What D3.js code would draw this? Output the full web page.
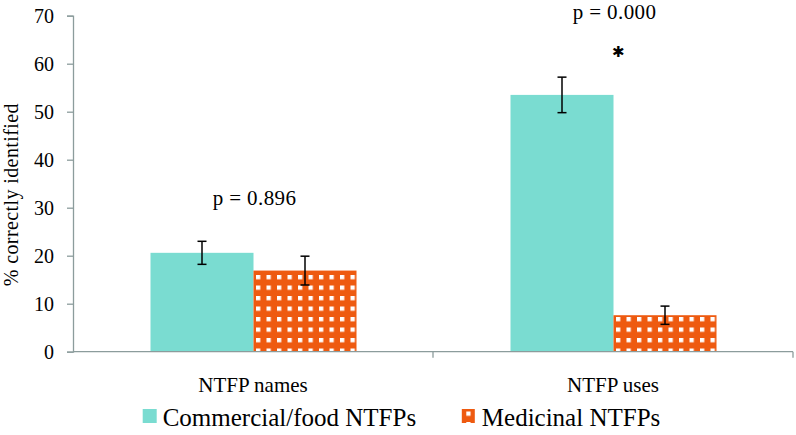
<!DOCTYPE html>
<html>
<head>
<meta charset="utf-8">
<script src="https://cdn.jsdelivr.net/npm/d3@7"></script>
<style>
  html, body { margin: 0; padding: 0; background: #fff; }
  svg { display: block; }
  text { font-family: "Liberation Serif", "Times New Roman", serif; fill: #000; }
</style>
</head>
<body>
<svg id="chart" width="796" height="435"></svg>
<script>
const categories = ["NTFP names", "NTFP uses"];
const seriesNames = ["Commercial/food NTFPs", "Medicinal NTFPs"];
const commercialValues = [20.6, 53.5];
const commercialErrors = [2.4, 3.7];
const medicinalValues = [16.9, 7.6];
const medicinalErrors = [3.0, 1.9];
const pLabels = ["p = 0.896", "p = 0.000"];
const pLabelValues = [30.55, 69.3];
const significant = [false, true];
const yTicks = [0, 10, 20, 30, 40, 50, 60, 70];

const fills = ["#7ADCD1", "url(#checker)"];

const svg = d3.select("#chart");
const defs = svg.append("defs");
const pat = defs.append("pattern")
  .attr("id", "checker")
  .attr("patternUnits", "userSpaceOnUse")
  .attr("x", 267).attr("y", 275)
  .attr("width", 10.5).attr("height", 10.5);
pat.append("rect").attr("width", 10.5).attr("height", 10.5).attr("fill", "#EE5A10");
pat.append("rect").attr("x", 0).attr("y", 0).attr("width", 4.3).attr("height", 4.3).attr("fill", "#ffffff");

const plotLeft = 73, plotRight = 793, plotTop = 15.7, plotBottom = 351.7;

const x0 = d3.scaleBand().domain(categories).range([plotLeft, plotRight]).padding(0);
const x1 = d3.scaleBand().domain(seriesNames).range([77.5, 283.5]).padding(0);
const y = d3.scaleLinear().domain([0, 70]).range([plotBottom, plotTop]);

const rows = categories.map((c, i) => ({
  category: c,
  items: [
    { series: seriesNames[0], value: commercialValues[i], err: commercialErrors[i], fill: fills[0] },
    { series: seriesNames[1], value: medicinalValues[i], err: medicinalErrors[i], fill: fills[1] }
  ]
}));

// bars
const groups = svg.append("g").selectAll("g").data(rows).join("g")
  .attr("transform", d => `translate(${x0(d.category)},0)`);

groups.selectAll("rect").data(d => d.items).join("rect")
  .attr("x", d => x1(d.series))
  .attr("y", d => y(d.value))
  .attr("width", x1.bandwidth())
  .attr("height", d => y(0) - y(d.value))
  .attr("fill", d => d.fill);

// error bars
const eb = groups.selectAll("g.err").data(d => d.items).join("g").attr("class", "err")
  .attr("stroke", "#000").attr("stroke-width", 1.5).attr("fill", "none");
const cx = d => x1(d.series) + x1.bandwidth() / 2;
eb.append("line")
  .attr("x1", cx).attr("x2", cx)
  .attr("y1", d => y(d.value + d.err))
  .attr("y2", d => y(d.value - d.err));
eb.append("line")
  .attr("x1", d => cx(d) - 4.5).attr("x2", d => cx(d) + 4.5)
  .attr("y1", d => y(d.value + d.err)).attr("y2", d => y(d.value + d.err));
eb.append("line")
  .attr("x1", d => cx(d) - 4.5).attr("x2", d => cx(d) + 4.5)
  .attr("y1", d => y(d.value - d.err)).attr("y2", d => y(d.value - d.err));

// y axis
const axisColor = "#8C9C9C";
const yAxis = svg.append("g")
  .attr("transform", `translate(${plotLeft},0)`)
  .call(d3.axisLeft(y).tickValues(yTicks).tickSize(6).tickPadding(13).tickSizeOuter(6));
yAxis.select(".domain").attr("stroke", axisColor).attr("stroke-width", 1.3);
yAxis.selectAll(".tick line").attr("stroke", axisColor).attr("stroke-width", 1.3);
yAxis.selectAll(".tick text")
  .attr("font-family", "Liberation Serif, serif")
  .attr("font-size", 20).attr("fill", "#000");

// x axis baseline and boundary ticks
svg.append("line")
  .attr("x1", plotLeft).attr("x2", plotRight)
  .attr("y1", y(0)).attr("y2", y(0))
  .attr("stroke", axisColor).attr("stroke-width", 1.3);
const boundaries = categories.map(c => x0(c) + x0.bandwidth());
svg.append("g").selectAll("line").data(boundaries).join("line")
  .attr("x1", d => d).attr("x2", d => d)
  .attr("y1", y(0)).attr("y2", y(0) + 6)
  .attr("stroke", axisColor).attr("stroke-width", 1.3);

// category labels
svg.append("g").selectAll("text").data(categories).join("text")
  .attr("x", d => x0(d) + x0.bandwidth() / 2)
  .attr("y", 392)
  .attr("text-anchor", "middle")
  .attr("font-size", 21)
  .text(d => d);

// y title
svg.append("text")
  .attr("transform", `translate(18,${(plotTop + plotBottom) / 2 + 11}) rotate(-90)`)
  .attr("text-anchor", "middle")
  .attr("font-size", 20)
  .attr("letter-spacing", 0.4)
  .text("% correctly identified");

// p-values
svg.append("g").selectAll("text").data(categories).join("text")
  .attr("x", d => x0(d) + x0.bandwidth() / 2 + 1.5)
  .attr("y", (d, i) => y(pLabelValues[i]))
  .attr("text-anchor", "middle")
  .attr("font-size", 21)
  .attr("letter-spacing", 0.4)
  .text((d, i) => pLabels[i]);

// significance asterisk
svg.append("g").selectAll("text").data(categories.filter((c, i) => significant[i])).join("text")
  .attr("x", d => x0(d) + x1("Medicinal NTFPs") + 5)
  .attr("y", 52)
  .attr("text-anchor", "middle")
  .attr("dominant-baseline", "central")
  .attr("font-family", "DejaVu Sans, sans-serif")
  .attr("font-size", 15)
  .text("\u2731");

// legend
const legendX = [142.7, 461.8];
const legend = svg.append("g").selectAll("g").data(seriesNames).join("g")
  .attr("transform", (d, i) => `translate(${legendX[i]},0)`);
legend.append("rect")
  .attr("x", 0).attr("y", 409)
  .attr("width", (d, i) => i === 0 ? 14 : 13).attr("height", 14)
  .attr("fill", (d, i) => fills[i]);
legend.append("text")
  .attr("x", 20)
  .attr("y", 426)
  .attr("font-size", 25)
  .text(d => d);
</script>
</body>
</html>
